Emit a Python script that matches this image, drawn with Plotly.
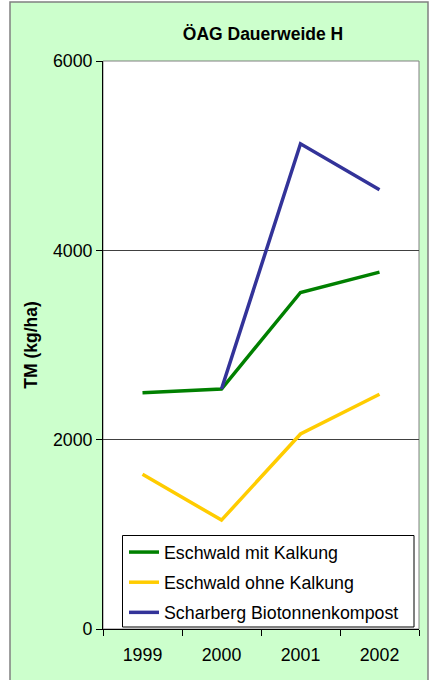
import plotly.graph_objects as go

# Dry matter yield per year and treatment
years = ["1999", "2000", "2001", "2002"]
mit_kalkung = [2495, 2535, 3555, 3770]
ohne_kalkung = [1635, 1150, 2060, 2480]
biotonnenkompost = [None, 2535, 5125, 4640]

series_names = ["Eschwald mit Kalkung", "Eschwald ohne Kalkung", "Scharberg Biotonnenkompost"]
series_values = [mit_kalkung, ohne_kalkung, biotonnenkompost]
series_colors = ["#008000", "#FFCC00", "#333399"]

y_ticks = [0, 2000, 4000, 6000]

FONT = "Liberation Sans, Arial, sans-serif"
FS = 17.8
W, H = 435, 680
L, R, T, B = 103, 16, 61, 51
pw, ph = W - L - R, H - T - B


def px_x(x):
    return (x - L) / pw


def px_y(y):
    return (H - B - y) / ph


fig = go.Figure()
for i, (name, vals, col) in enumerate(zip(series_names, series_values, series_colors)):
    fig.add_trace(go.Scatter(
        x=years, y=vals, name=name, mode="lines",
        line=dict(color=col, width=3.5),
        connectgaps=False, legendgroup=f"g{i}",
    ))

shapes = [
    # outer chart area
    dict(type="rect", xref="paper", yref="paper", layer="below",
         x0=px_x(10), x1=px_x(428), y0=px_y(690), y1=px_y(2),
         fillcolor="#CCFFCC", line=dict(color="#808080", width=1.5)),
    # plot area
    dict(type="rect", xref="paper", yref="paper", layer="below",
         x0=0, x1=1, y0=0, y1=1,
         fillcolor="#FFFFFF", line=dict(color="#808080", width=1)),
    # legend box
    dict(type="rect", xref="paper", yref="paper", layer="above",
         x0=px_x(122.5), x1=px_x(414), y0=px_y(627), y1=px_y(535.5),
         fillcolor="#FFFFFF", line=dict(color="#000000", width=1)),
]

fig.update_layout(
    width=W, height=H,
    margin=dict(l=L, r=R, t=T, b=B),
    paper_bgcolor="#FFFFFF",
    plot_bgcolor="rgba(0,0,0,0)",
    font=dict(family=FONT, size=FS, color="#000000"),
    shapes=shapes,
    title=dict(text="<b>ÖAG Dauerweide H</b>", xref="container", x=263 / W,
               xanchor="center", y=1 - 34 / H, yanchor="middle",
               font=dict(family=FONT, size=17.5, color="#000000")),
    showlegend=True,
    legend=dict(
        x=px_x(124), xanchor="left", y=px_y(534), yanchor="top",
        bgcolor="rgba(0,0,0,0)", borderwidth=0,
        font=dict(family=FONT, size=FS, color="#000000"),
        traceorder="grouped", tracegroupgap=4,
    ),
    xaxis=dict(
        type="category", tickson="boundaries",
        range=[-0.5, 3.5],
        showgrid=False, zeroline=False,
        showline=True, linecolor="#000000", linewidth=1,
        ticks="outside", ticklen=6, tickcolor="#000000",
        ticklabelstandoff=10,
        tickfont=dict(family=FONT, size=FS),
    ),
    yaxis=dict(
        range=[0, 6000], tickvals=y_ticks,
        showgrid=True, gridcolor="#404040", gridwidth=1,
        zeroline=False,
        showline=True, linecolor="#000000", linewidth=1,
        ticks="outside", ticklen=6, tickcolor="#000000",
        tickfont=dict(family=FONT, size=FS),
        title=dict(text="<b>TM (kg/ha)</b>", standoff=10,
                   font=dict(family=FONT, size=17.5)),
    ),
)

fig.write_html("out.html")
